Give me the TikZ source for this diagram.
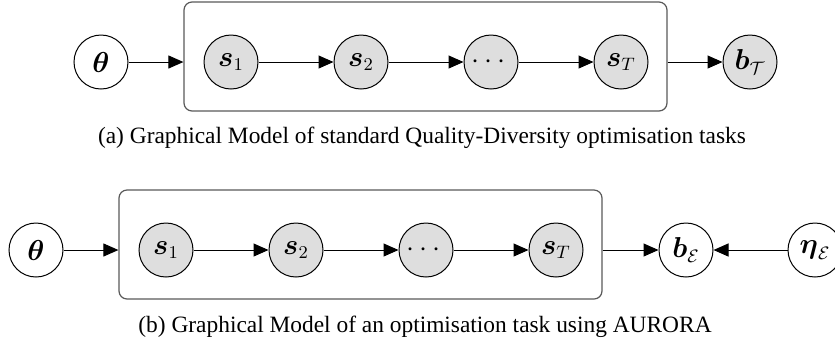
\documentclass[tikz,border=0pt]{standalone}
\usepackage{amsmath,amssymb}
\usepackage[no-math]{fontspec}
\setmainfont{Liberation Serif}
\usetikzlibrary{arrows.meta,calc}
\begin{document}
\begin{tikzpicture}[x=0.5pt,y=-0.5pt,
  var/.style={circle,draw=black,line width=0.5pt,minimum size=27pt,inner sep=0pt,
    font=\fontsize{13.5}{15}\selectfont},
  obs/.style={var,fill=black!13},
  lat/.style={var,fill=white},
  plate/.style={draw=black!65,line width=0.6pt,rounded corners=4pt,
    minimum width=241.5pt,minimum height=54.5pt,inner sep=0pt},
  edge/.style={-{Triangle[length=7.5pt,width=6.5pt]},line width=0.5pt,black},
  captext/.style={font=\fontsize{11.7}{14}\selectfont,inner sep=0pt}]
\useasboundingbox (0,0) rectangle (835,345);
% (a)
\node[plate] (boxA) at (425.5,56.5) {};
\node[lat] (thA) at (101,62) {$\boldsymbol{\theta}$};
\node[obs] (s1A) at (231,62) {$\boldsymbol{s}_1$};
\node[obs] (s2A) at (361,62) {$\boldsymbol{s}_2$};
\node[obs] (sdA) at (491,62) {$\cdots$};
\node[obs] (sTA) at (621,62) {$\boldsymbol{s}_T$};
\node[obs] (bA) at (750,62) {$\boldsymbol{b}_{\mathcal{T}}$};
\draw[edge] (thA) -- (thA -| boxA.west);
\draw[edge] (s1A) -- (s2A);
\draw[edge] (s2A) -- (sdA);
\draw[edge] (sdA) -- (sTA);
\draw[edge] (bA -| boxA.east) -- (bA);
\node[captext] (capA) at (422,138) {(a) Graphical Model of standard Quality-Diversity optimisation tasks};
% (b)
\node[plate] (boxB) at (360.5,244.5) {};
\node[lat] (thB) at (36,250) {$\boldsymbol{\theta}$};
\node[obs] (s1B) at (166,250) {$\boldsymbol{s}_1$};
\node[obs] (s2B) at (296,250) {$\boldsymbol{s}_2$};
\node[obs] (sdB) at (426,250) {$\cdots$};
\node[obs] (sTB) at (556,250) {$\boldsymbol{s}_T$};
\node[lat] (bB) at (686,250) {$\boldsymbol{b}_{\mathcal{E}}$};
\node[lat] (etB) at (815,250) {$\boldsymbol{\eta}_{\mathcal{E}}$};
\draw[edge] (thB) -- (thB -| boxB.west);
\draw[edge] (s1B) -- (s2B);
\draw[edge] (s2B) -- (sdB);
\draw[edge] (sdB) -- (sTB);
\draw[edge] (bB -| boxB.east) -- (bB);
\draw[edge] (etB) -- (bB);
\node[captext] (capB) at (425,327) {(b) Graphical Model of an optimisation task using AURORA};
\end{tikzpicture}
\end{document}
